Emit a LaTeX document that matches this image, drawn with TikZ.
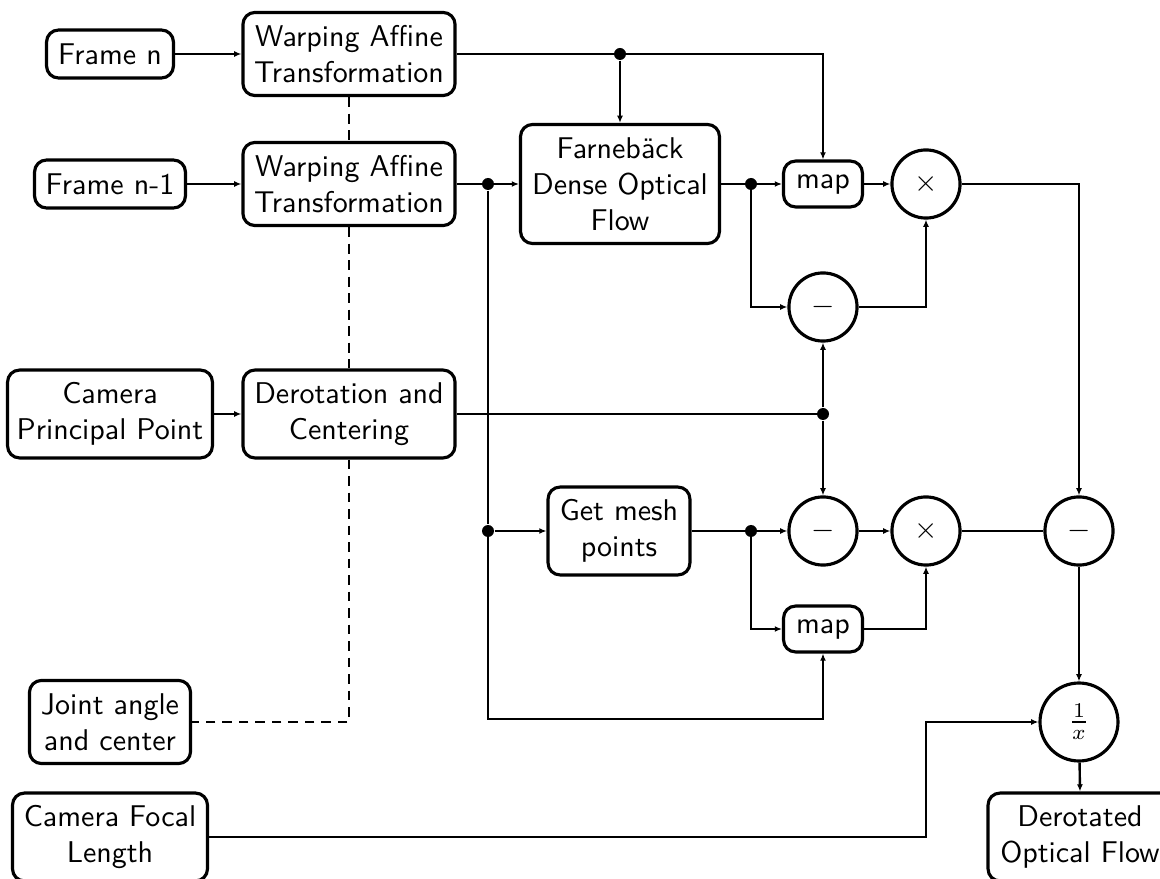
\documentclass[tikz,border=0pt]{standalone}
\usetikzlibrary{arrows.meta}
\begin{document}
\begin{tikzpicture}[x=0.33333pt,y=-0.33333pt,
  font=\sffamily,
  blk/.style={draw,line width=1.05pt,rounded corners=4pt,align=center,inner sep=0pt},
  op/.style={draw,line width=1.05pt,circle,inner sep=0pt,minimum size=22.7pt},
  conn/.style={line width=0.8pt,-{Latex[length=2.4pt,width=2pt]}},
  wire/.style={line width=0.8pt},
  dsh/.style={line width=0.9pt,dash pattern=on 3.3pt off 2.2pt},
  dot/.style={circle,fill,inner sep=0pt,minimum size=4pt}]
\useasboundingbox (0,0) rectangle (1160,879);

% input boxes
\node[blk,minimum width=42.3pt,minimum height=16pt] (fn) at (110,54) {Frame n};
\node[blk,minimum width=50.3pt,minimum height=16pt] (fn1) at (110,184) {Frame n-1};
\node[blk,minimum width=68.3pt,minimum height=29.3pt] (cpp) at (110,414) {Camera\\Principal Point};
\node[blk,minimum width=53.7pt,minimum height=27.7pt] (jac) at (110,722) {Joint angle\\and center};
\node[blk,minimum width=65pt,minimum height=29.3pt] (cfl) at (110,837) {Camera Focal\\Length};

% processing boxes
\node[blk,minimum width=70.7pt,minimum height=27.7pt] (wa1) at (349,54) {Warping Affine\\Transformation};
\node[blk,minimum width=70.7pt,minimum height=27.7pt] (wa2) at (349,184) {Warping Affine\\Transformation};
\node[blk,minimum width=70.7pt,minimum height=29.3pt] (der) at (349,414) {Derotation and\\Centering};
\node[blk,minimum width=66.3pt,minimum height=39.7pt] (fb) at (620,184) {Farnebäck\\Dense Optical\\Flow};
\node[blk,minimum width=47.3pt,minimum height=29.3pt] (mesh) at (619,531) {Get mesh\\points};
\node[blk,minimum width=26.3pt,minimum height=15.3pt] (map1) at (823,184) {map};
\node[blk,minimum width=26.3pt,minimum height=15.3pt] (map2) at (823,629) {map};
\node[blk,minimum width=61.3pt,minimum height=29.3pt] (out) at (1080,837) {Derotated\\Optical Flow};

% operators
\node[op] (mul1) at (926,184) {$\times$};
\node[op] (sub1) at (823,307) {$-$};
\node[op] (sub2) at (823,531) {$-$};
\node[op] (mul2) at (926,531) {$\times$};
\node[op] (sub3) at (1079,531) {$-$};
\node[op,minimum size=26pt] (rec) at (1079,722) {$\frac{1}{x}$};

% junctions
\node[dot] (j1) at (620,54) {};
\node[dot] (j2) at (488,184) {};
\node[dot] (j3) at (751,184) {};
\node[dot] (j4) at (823,414) {};
\node[dot] (j5) at (488,531) {};
\node[dot] (j6) at (751,531) {};
\coordinate (c1) at (488,719);
\coordinate (c2) at (926,722);

% connectors
\draw[conn] (fn) -- (wa1);
\draw[conn] (fn1) -- (wa2);
\draw[conn] (cpp) -- (der);
\draw[conn] (wa1.east) -| (map1.north);
\draw[conn] (j1) -- (fb.north);
\draw[conn] (wa2.east) -- (fb.west);
\draw[wire] (j2) -- (j5);
\draw[conn] (j5) -- (mesh.west);
\draw[conn] (j5.center) -- (c1) -| (map2.south);
\draw[conn] (fb.east) -- (map1.west);
\draw[conn] (j3.center) |- (sub1.west);
\draw[conn] (map1) -- (mul1);
\draw[conn] (sub1.east) -| (mul1.south);
\draw[conn] (mul1.east) -| (sub3.north);
\draw[wire] (der.east) -- (j4.center);
\draw[conn] (j4) -- (sub1.south);
\draw[conn] (j4) -- (sub2.north);
\draw[conn] (mesh.east) -- (sub2.west);
\draw[conn] (j6.center) |- (map2.west);
\draw[conn] (sub2) -- (mul2);
\draw[conn] (map2.east) -| (mul2.south);
\draw[wire] (mul2) -- (sub3);
\draw[conn] (sub3) -- (rec);
\draw[conn] (cfl.east) -| (c2) -- (rec.west);
\draw[conn] (rec) -- (out.north);

% dashed links
\draw[dsh] (wa1.south) -- (wa2.north);
\draw[dsh] (wa2.south) -- (der.north);
\draw[dsh] (der.south) |- (jac.east);
\end{tikzpicture}
\end{document}
